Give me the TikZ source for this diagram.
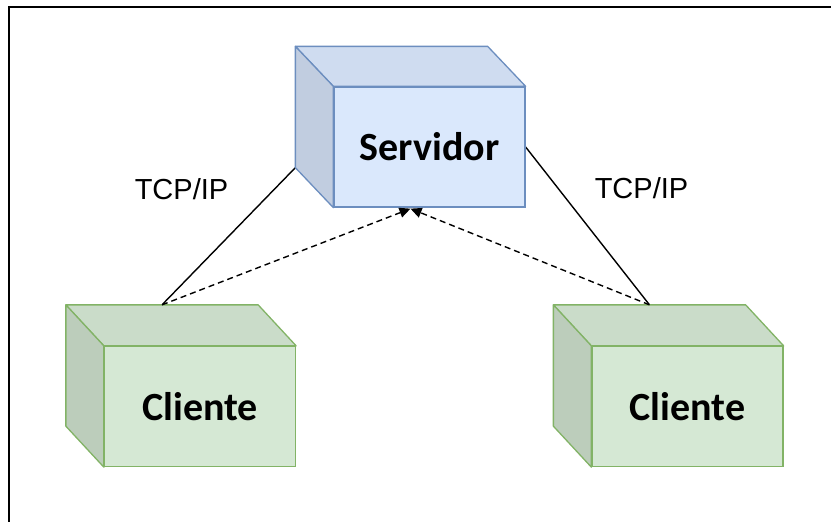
\documentclass[tikz,border=0pt]{standalone}
\usepackage{fontspec}
\setmainfont{Liberation Sans}
\newfontfamily\boxfont{Carlito}
\usetikzlibrary{calc,arrows.meta,backgrounds}
\definecolor{srvfill}{HTML}{DAE8FC}
\definecolor{srvtop}{HTML}{CFDCF0}
\definecolor{srvleft}{HTML}{C1CDE0}
\definecolor{srvline}{HTML}{6C8EBF}
\definecolor{clifill}{HTML}{D5E8D4}
\definecolor{clitop}{HTML}{CADCC9}
\definecolor{clileft}{HTML}{BCCDBB}
\definecolor{cliline}{HTML}{82B366}
\newcommand{\lowered}[1]{\raisebox{-2.5pt}{#1}}
\tikzset{
  front/.style={draw, line width=1.3pt, minimum width=191pt, minimum height=120pt,
    inner sep=0pt, font=\boxfont\bfseries\fontsize{40}{44}\selectfont},
  srvbox/.style={front, fill=srvfill, draw=srvline},
  clibox/.style={front, fill=clifill, draw=cliline},
  face/.style={line width=1.3pt, line join=round},
  link/.style={line width=1.4pt, black},
  call/.style={line width=1.4pt, black, dash pattern=on 6pt off 4pt,
    -{Triangle[length=11pt,width=10pt]}},
  proto/.style={font=\fontsize{29}{32}\selectfont}
}
\begin{document}
\begin{tikzpicture}[x=1pt,y=-1pt]
\useasboundingbox (0,0) rectangle (831,522);
\draw[line width=2pt] (9,522) -- (9,7) -- (831,7);

% front faces
\node[srvbox] (srv) at (429.5,147) {\lowered{Servidor}};
\node[clibox] (c1) at (200,406.5) {\lowered{Cliente}};
\node[clibox] (c2) at (687.5,406.5) {\lowered{Cliente}};

% cube depth faces
\draw[face, fill=srvtop, draw=srvline] (srv.north west) -- ++(-38,-40) -- ($(srv.north east)+(-38,-40)$) -- (srv.north east) -- cycle;
\draw[face, fill=srvleft, draw=srvline] (srv.north west) -- ++(-38,-40) -- ($(srv.south west)+(-38,-40)$) -- (srv.south west) -- cycle;
\foreach \c in {c1,c2}{
  \draw[face, fill=clitop, draw=cliline] (\c.north west) -- ++(-38,-41) -- ($(\c.north east)+(-38,-41)$) -- (\c.north east) -- cycle;
  \draw[face, fill=clileft, draw=cliline] (\c.north west) -- ++(-38,-41) -- ($(\c.south west)+(-38,-41)$) -- (\c.south west) -- cycle;
}

% connection points
\coordinate (c1top) at ($(c1.north)+(-38,-41)$);
\coordinate (c2top) at ($(c2.north)+(-38,-41)$);
\coordinate (srvleftcorner) at ($(srv.south west)+(-38,-40)$);
\coordinate (srvbottom) at ($(srv.south)+(-19,1)$);

\begin{scope}[on background layer]
\draw[link] (c1top) -- (srvleftcorner);
\draw[link] (c2top) -- (srv.east);
\end{scope}
\draw[call] (c1top) -- (srvbottom);
\draw[call] (c2top) -- (srvbottom);

\node[proto] (l1) at (181.5,189) {TCP/IP};
\node[proto] (l2) at (641.5,188.5) {TCP/IP};
\end{tikzpicture}
\end{document}
